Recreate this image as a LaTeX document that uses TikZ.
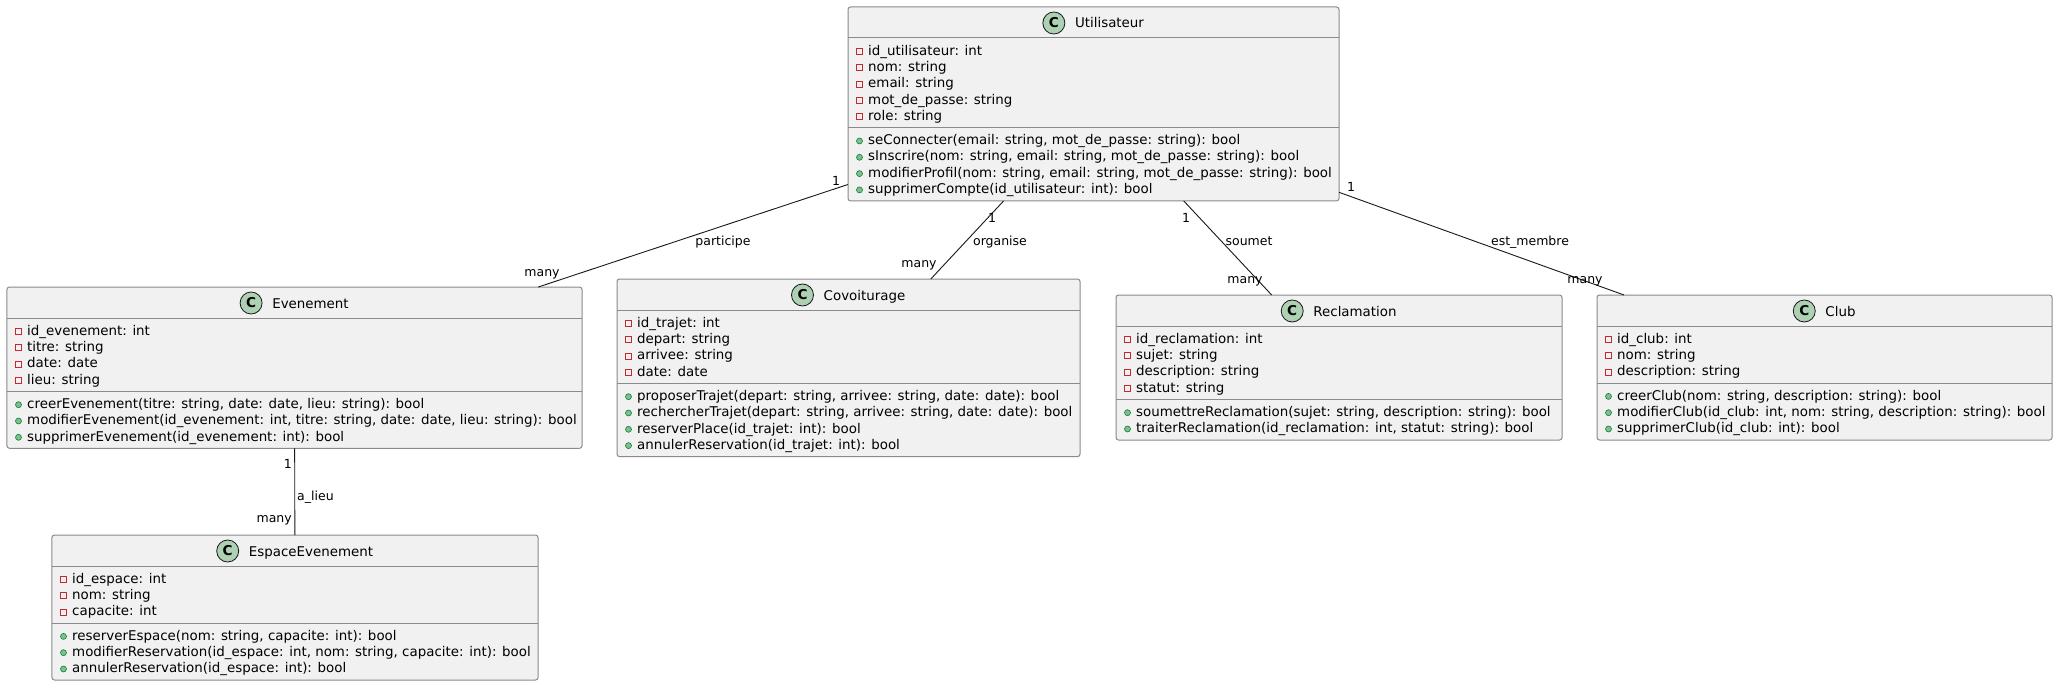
\documentclass[tikz,border=0pt]{standalone}
\usepackage{fontspec}
\setmainfont{DejaVu Sans}
\usetikzlibrary{calc}
\definecolor{boxfill}{HTML}{F1F1F1}
\definecolor{boxline}{HTML}{8A8A8A}
\definecolor{linkline}{HTML}{181818}
\definecolor{circfill}{HTML}{ADD1B2}
\definecolor{privred}{HTML}{C82930}
\definecolor{pubfill}{HTML}{84BE84}
\definecolor{publine}{HTML}{038048}
\newcommand\membfont{\fontsize{13.4bp}{16bp}\selectfont}
\newcommand\lblfont{\fontsize{12.5bp}{15bp}\selectfont}
\tikzset{
  classbox/.style={draw=boxline, line width=1bp, fill=boxfill, rounded corners=2.5bp, inner sep=0pt, outer sep=0pt},
  divider/.style={draw=boxline, line width=1bp},
  member/.style={anchor=base west, inner sep=0pt, font=\membfont},
  titletext/.style={anchor=base, inner sep=0pt, font=\membfont},
  spot/.style={draw=linkline, line width=0.8bp, fill=circfill},
  spotletter/.style={inner sep=0pt, font=\fontsize{13.6bp}{16bp}\selectfont\bfseries},
  privicon/.style={draw=privred, line width=0.8bp},
  pubicon/.style={draw=publine, line width=0.6bp, fill=pubfill},
  assoc/.style={draw=linkline, line width=0.9bp},
  lbl/.style={inner sep=0pt, font=\lblfont},
}
% #1 name, #2 left, #3 top, #4 right, #5 n attrs, #6 n methods, #7 title, #8 attrs, #9 methods
\newcommand\umlclass[9]{%
  \pgfmathsetmacro\uL{#2}%
  \pgfmathsetmacro\uT{#3}%
  \pgfmathsetmacro\uR{#4}%
  \pgfmathsetmacro\uH{\uT+31}%
  \pgfmathsetmacro\uAa{\uH+12.5}%
  \pgfmathsetmacro\uAd{\uAa+(#5-1)*16.3+12.3}%
  \pgfmathsetmacro\uMa{\uAd+12}%
  \pgfmathsetmacro\uB{\uMa+(#6-1)*16.3+12}%
  \pgfmathsetmacro\uCx{(\uL+\uR)/2}%
  \pgfmathsetmacro\uCy{(\uT+\uB)/2}%
  \pgfmathsetmacro\uW{\uR-\uL}%
  \pgfmathsetmacro\uHt{\uB-\uT}%
  \node[classbox, minimum width=\uW bp, minimum height=\uHt bp] (#1) at (\uCx,\uCy) {};
  \draw[divider] (\uL,\uH) -- (\uR,\uH);
  \draw[divider] (\uL,\uAd) -- (\uR,\uAd);
  \node[titletext] (#1-title) at (\uCx+16,\uT+21) {#7};
  \draw[spot] ($(#1-title.base west)+(-21,-5)$) circle (11bp);
  \node[spotletter] (#1-spot) at ($(#1-title.base west)+(-21,-5)$) {C};
  \foreach \t [count=\i] in {#8} {
    \pgfmathsetmacro\yy{\uAa+(\i-1)*16.3}
    \draw[privicon] (\uL+8.5,\yy-2) rectangle (\uL+14.5,\yy+4);
    \node[member] (#1-a\i) at (\uL+20,\yy+4.7) {\t};
  }
  \foreach \t [count=\i] in {#9} {
    \pgfmathsetmacro\yy{\uMa+(\i-1)*16.3}
    \draw[pubicon] (\uL+11.5,\yy+1) circle (3bp);
    \node[member] (#1-m\i) at (\uL+20,\yy+4.7) {\t};
  }
}
\begin{document}
\begin{tikzpicture}[x=1bp, y=-1bp]
\fill[white] (0,0) rectangle (2058,685);
\useasboundingbox (0,0) rectangle (2058,685);

\umlclass{U}{848}{7}{1339}{5}{4}{Utilisateur}
  {{id\_utilisateur: int},{nom: string},{email: string},{mot\_de\_passe: string},{role: string}}
  {{seConnecter(email: string, mot\_de\_passe: string): bool},
   {sInscrire(nom: string, email: string, mot\_de\_passe: string): bool},
   {modifierProfil(nom: string, email: string, mot\_de\_passe: string): bool},
   {supprimerCompte(id\_utilisateur: int): bool}}

\umlclass{E}{7}{287}{582}{4}{3}{Evenement}
  {{id\_evenement: int},{titre: string},{date: date},{lieu: string}}
  {{creerEvenement(titre: string, date: date, lieu: string): bool},
   {modifierEvenement(id\_evenement: int, titre: string, date: date, lieu: string): bool},
   {supprimerEvenement(id\_evenement: int): bool}}

\umlclass{S}{52}{535}{538}{3}{3}{EspaceEvenement}
  {{id\_espace: int},{nom: string},{capacite: int}}
  {{reserverEspace(nom: string, capacite: int): bool},
   {modifierReservation(id\_espace: int, nom: string, capacite: int): bool},
   {annulerReservation(id\_espace: int): bool}}

\umlclass{C}{617}{279}{1080}{4}{4}{Covoiturage}
  {{id\_trajet: int},{depart: string},{arrivee: string},{date: date}}
  {{proposerTrajet(depart: string, arrivee: string, date: date): bool},
   {rechercherTrajet(depart: string, arrivee: string, date: date): bool},
   {reserverPlace(id\_trajet: int): bool},
   {annulerReservation(id\_trajet: int): bool}}

\umlclass{R}{1116}{295}{1562}{4}{2}{Reclamation}
  {{id\_reclamation: int},{sujet: string},{description: string},{statut: string}}
  {{soumettreReclamation(sujet: string, description: string): bool},
   {traiterReclamation(id\_reclamation: int, statut: string): bool}}

\umlclass{K}{1597}{295}{2052}{3}{3}{Club}
  {{id\_club: int},{nom: string},{description: string}}
  {{creerClub(nom: string, description: string): bool},
   {modifierClub(id\_club: int, nom: string, description: string): bool},
   {supprimerClub(id\_club: int): bool}}

% associations
\draw[assoc] (U) -- (E);
\draw[assoc] (U) -- (C);
\draw[assoc] (U) -- (R);
\draw[assoc] (U) -- (K);
\draw[assoc] (E) -- (S);

% labels
\node[lbl, anchor=base] (lp1) at (836,185.6) {1};
\node[lbl, anchor=base] (lp) at (723,245.6) {participe};
\node[lbl, anchor=base] (lpm) at (542,276.6) {many};
\node[lbl, anchor=base] (lo1) at (992,222.6) {1};
\node[lbl, anchor=base] (lo) at (1000,245.6) {organise};
\node[lbl, anchor=base] (lom) at (919,267.6) {many};
\node[lbl, anchor=base] (ls1) at (1186,222.6) {1};
\node[lbl, anchor=base] (ls) at (1249,245.6) {soumet};
\node[lbl, anchor=base] (lsm) at (1245,283.6) {many};
\node[lbl, anchor=base] (le1) at (1351,191.6) {1};
\node[lbl, anchor=base] (le) at (1530,245.6) {est\_membre};
\node[lbl, anchor=base] (lem) at (1585,283.6) {many};
\node[lbl, anchor=base east] (la1) at (292,468.6) {1};
\node[lbl, anchor=base west] (la) at (297,500.6) {a\_lieu};
\node[lbl, anchor=base east] (lam) at (292,522.6) {many};
\end{tikzpicture}
\end{document}
